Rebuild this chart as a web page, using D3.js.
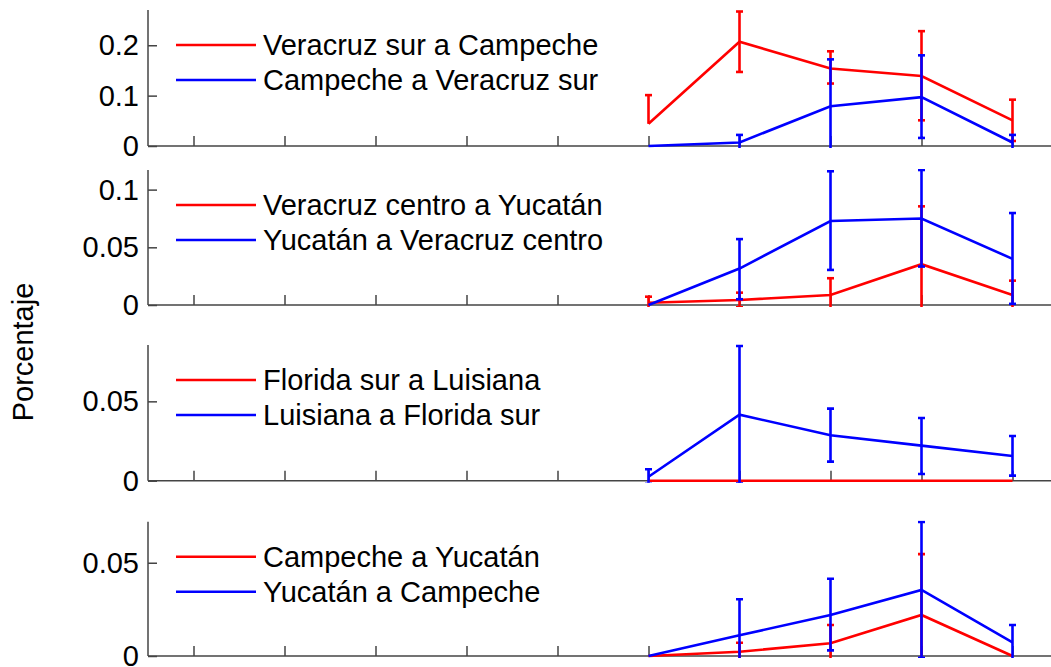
<!DOCTYPE html>
<html><head><meta charset="utf-8">
<script src="https://cdn.jsdelivr.net/npm/d3@7"></script>
<style>body{margin:0;background:#fff}svg{display:block}</style>
</head><body>
<script>
// ---- data ----
const xTicks = [1,2,3,4,5,6,7,8,9,10];
const xPts = [6,7,8,9,10];

const legend1 = ["Veracruz sur a Campeche", "Campeche a Veracruz sur"];
const legend2 = ["Veracruz centro a Yucatán", "Yucatán a Veracruz centro"];
const legend3 = ["Florida sur a Luisiana", "Luisiana a Florida sur"];
const legend4 = ["Campeche a Yucatán", "Yucatán a Campeche"];

const yMax = [0.27, 0.117, 0.0855, 0.072];
const yTicks1 = [0, 0.1, 0.2];
const yTicks2 = [0, 0.05, 0.1];
const yTicks3 = [0, 0.05];
const yTicks4 = [0, 0.05];

// panel 1
const red1 = [0.044, 0.207, 0.154, 0.139, 0.051];
const red1Lo = [0.044, 0.147, 0.124, 0.051, 0.010];
const red1Hi = [0.101, 0.267, 0.188, 0.228, 0.092];
const blue1 = [0, 0.007, 0.079, 0.097, 0.007];
const blue1Lo = [0, -0.008, -0.014, 0.016, -0.008];
const blue1Hi = [0, 0.022, 0.172, 0.180, 0.022];
// panel 2
const red2 = [0.002, 0.0043, 0.0087, 0.0354, 0.0087];
const red2Lo = [-0.003, -0.002, -0.006, -0.015, -0.004];
const red2Hi = [0.0072, 0.0107, 0.0232, 0.0855, 0.0211];
const blue2 = [0, 0.0316, 0.0728, 0.075, 0.040];
const blue2Lo = [0, 0.005, 0.0304, 0.0333, 0.001];
const blue2Hi = [0, 0.0571, 0.1159, 0.117, 0.0797];
// panel 3
const red3 = [0, 0, 0, 0, 0];
const red3Lo = [0, 0, 0, 0, 0];
const red3Hi = [0, 0, 0, 0, 0];
const blue3 = [0.0025, 0.0416, 0.0286, 0.0221, 0.0156];
const blue3Lo = [-0.002, -0.0017, 0.012, 0.0042, 0.0032];
const blue3Hi = [0.0072, 0.0849, 0.0454, 0.0395, 0.0282];
// panel 4
const red4 = [0, 0.0023, 0.0068, 0.022, 0];
const red4Lo = [0, -0.0025, -0.003, -0.0106, 0];
const red4Hi = [0, 0.0071, 0.0166, 0.0546, 0];
const blue4 = [0, 0.0111, 0.022, 0.0354, 0.0073];
const blue4Lo = [0, -0.008, 0.003, -0.001, -0.002];
const blue4Hi = [0, 0.0304, 0.0414, 0.0719, 0.0166];

const yLabel = "Porcentaje";

// ---- layout ----
const W = 1051, H = 667;
const panelTops = [10, 170, 345, 521.7];
const panelBottoms = [146, 305, 480.7, 656];
const xLeft = 148, xRight = 1058;
const FONT = "'Liberation Sans', Arial, sans-serif";
const FS = 29;
const axisColor = "#444";
const RED = "#ff0000", BLUE = "#0000ff";

const panels = [
  {legend: legend1, ticks: yTicks1, series: [[red1, red1Lo, red1Hi, RED], [blue1, blue1Lo, blue1Hi, BLUE]]},
  {legend: legend2, ticks: yTicks2, series: [[red2, red2Lo, red2Hi, RED], [blue2, blue2Lo, blue2Hi, BLUE]]},
  {legend: legend3, ticks: yTicks3, series: [[red3, red3Lo, red3Hi, RED], [blue3, blue3Lo, blue3Hi, BLUE]]},
  {legend: legend4, ticks: yTicks4, series: [[red4, red4Lo, red4Hi, RED], [blue4, blue4Lo, blue4Hi, BLUE]]},
];

const svg = d3.select("body").append("svg").attr("width", W).attr("height", H);
const x = d3.scaleLinear().domain([0.5, 10.5]).range([xLeft, xRight]);

panels.forEach((p, i) => {
  const top = panelTops[i], bot = panelBottoms[i];
  const y = d3.scaleLinear().domain([0, yMax[i]]).range([bot, top]);
  const g = svg.append("g");

  const cid = "clip" + i;
  svg.append("clipPath").attr("id", cid).append("rect")
    .attr("x", xLeft).attr("y", top - 1).attr("width", W - xLeft).attr("height", bot - top + 3);

  // y axis
  const ya = d3.axisRight(y).tickValues(p.ticks).tickSize(9).tickFormat(d3.format("~g"));
  const yg = g.append("g").attr("transform", `translate(${xLeft},0)`).call(ya);
  yg.select(".domain").remove();
  yg.selectAll(".tick line").attr("stroke", axisColor).attr("stroke-width", 1.5);
  yg.selectAll(".tick text").attr("x", -9).attr("text-anchor", "end")
    .attr("font-family", FONT).attr("font-size", FS).attr("fill", "#000").attr("dy", "0.33em");
  g.append("line").attr("x1", xLeft).attr("x2", xLeft).attr("y1", top).attr("y2", bot)
    .attr("stroke", axisColor).attr("stroke-width", 1.5);

  // x axis
  const xa = d3.axisTop(x).tickValues(xTicks).tickSize(10).tickFormat("");
  const xg = g.append("g").attr("transform", `translate(0,${bot})`).call(xa);
  xg.select(".domain").remove();
  xg.selectAll(".tick line").attr("stroke", axisColor).attr("stroke-width", 1.5);
  g.append("line").attr("x1", xLeft).attr("x2", W).attr("y1", bot).attr("y2", bot)
    .attr("stroke", axisColor).attr("stroke-width", 1.5);

  // data
  const dg = g.append("g").attr("clip-path", `url(#${cid})`);
  const line = d3.line().x((d, k) => x(xPts[k])).y(d => y(d));
  p.series.forEach(([vals, lo, hi, col]) => {
    dg.append("path").datum(vals).attr("d", line).attr("fill", "none")
      .attr("stroke", col).attr("stroke-width", 2.6).attr("stroke-linejoin", "miter");
    vals.forEach((v, k) => {
      const cx = x(xPts[k]);
      if (hi[k] === lo[k]) return;
      dg.append("line").attr("x1", cx).attr("x2", cx).attr("y1", y(lo[k])).attr("y2", y(hi[k]))
        .attr("stroke", col).attr("stroke-width", 2.6);
      if (hi[k] > v) dg.append("line").attr("x1", cx - 3.5).attr("x2", cx + 3.5)
        .attr("y1", y(hi[k])).attr("y2", y(hi[k])).attr("stroke", col).attr("stroke-width", 2.6);
      if (lo[k] < v) dg.append("line").attr("x1", cx - 3.5).attr("x2", cx + 3.5)
        .attr("y1", y(lo[k])).attr("y2", y(lo[k])).attr("stroke", col).attr("stroke-width", 2.6);
    });
  });

  // legend
  [RED, BLUE].forEach((col, j) => {
    const ly = top + 35 + j * 35;
    g.append("line").attr("x1", 176).attr("x2", 256).attr("y1", ly).attr("y2", ly)
      .attr("stroke", col).attr("stroke-width", 2.6);
    g.append("text").attr("x", 263).attr("y", ly).attr("dy", "0.36em")
      .attr("font-family", FONT).attr("font-size", FS).attr("fill", "#000")
      .text(p.legend[j]);
  });
});

svg.append("text")
  .attr("transform", `translate(33,352) rotate(-90)`)
  .attr("text-anchor", "middle")
  .attr("font-family", FONT).attr("font-size", FS).attr("fill", "#000")
  .text(yLabel);
</script>
</body></html>
